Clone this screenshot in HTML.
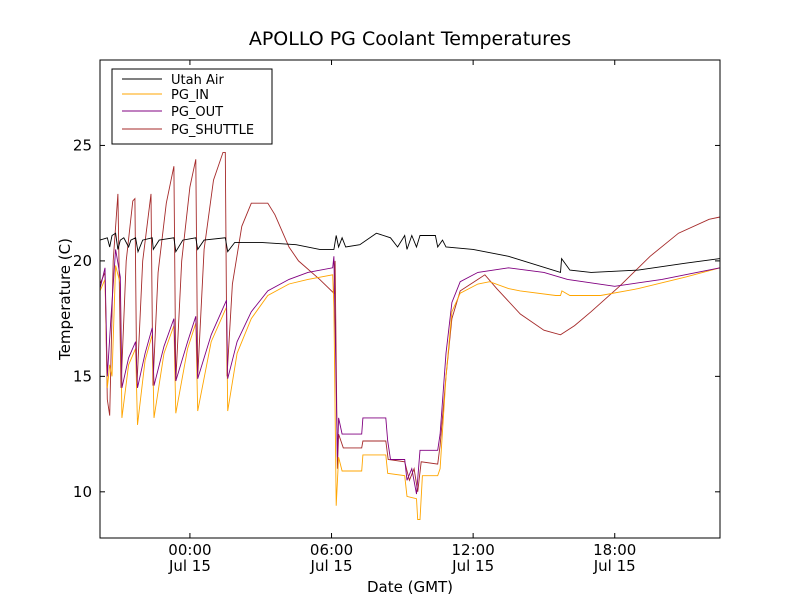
<!DOCTYPE html>
<html><head><meta charset="utf-8"><style>
body{margin:0;background:#fff;}
svg{display:block;font-family:"DejaVu Sans","Liberation Sans",sans-serif;}
</style></head><body>
<svg id="chart" width="800" height="600"></svg>
<script>
const airT=[-3.81,-3.5,-3.4,-3.3,-3.15,-3.05,-2.95,-2.8,-2.6,-2.5,-2.3,-2.2,-2.0,-1.6,-1.55,-1.3,-0.68,-0.6,-0.3,0.25,0.33,0.6,1.5,1.6,1.9,3.0,4.5,5.5,6.1,6.2,6.3,6.45,6.6,7.2,7.9,8.5,8.8,9.1,9.2,9.4,9.6,9.75,10.4,10.5,10.7,10.85,12.0,13.5,15.7,15.75,16.1,17,19,21,22.46];
const airV=[20.9,21.0,20.6,21.1,21.2,20.5,20.9,21.0,20.6,20.9,21.0,20.4,20.9,21.0,20.5,20.9,21.0,20.4,20.9,21.0,20.5,20.9,21.0,20.4,20.8,20.8,20.7,20.5,20.5,21.1,20.6,21.0,20.6,20.7,21.2,21.0,20.6,21.1,20.5,21.1,20.6,21.1,21.1,20.6,20.9,20.6,20.5,20.2,19.5,20.1,19.6,19.5,19.6,19.9,20.1];
const inT=[-3.81,-3.6,-3.5,-3.4,-3.3,-3.15,-2.95,-2.88,-2.6,-2.3,-2.22,-1.9,-1.6,-1.52,-1.1,-0.68,-0.6,-0.1,0.25,0.33,0.9,1.55,1.6,2.0,2.6,3.3,4.2,5.0,6.05,6.1,6.2,6.3,6.45,7.28,7.33,8.3,8.38,9.1,9.2,9.6,9.65,9.75,9.85,10.5,10.6,10.85,11.1,11.45,12.2,12.7,13.5,14,15.5,15.7,15.76,16.1,17.4,19,21,22.46];
const inV=[18.7,19.2,14.5,15.5,15,19.8,19,13.2,15.5,16.2,12.9,15.7,16.8,13.2,16,17.2,13.4,16.2,17.3,13.5,16.5,18,13.5,16,17.5,18.5,19,19.2,19.4,18,9.4,11.5,10.9,10.9,11.6,11.6,10.8,10.7,9.8,9.7,8.8,8.8,10.7,10.7,11,15,17.8,18.6,19,19.1,18.8,18.7,18.5,18.5,18.7,18.5,18.5,18.8,19.3,19.7];
const outT=[-3.81,-3.6,-3.5,-3.35,-3.15,-2.95,-2.88,-2.6,-2.3,-2.22,-1.9,-1.6,-1.52,-1.1,-0.68,-0.6,-0.1,0.25,0.33,0.9,1.55,1.6,2.0,2.6,3.3,4.2,5.0,6.05,6.1,6.25,6.3,6.45,7.28,7.33,8.3,8.38,8.5,9.1,9.2,9.4,9.6,9.75,10.5,10.6,10.85,11.1,11.45,12.2,13.5,15,16,18,20,22.46];
const outV=[18.8,19.7,15,17.5,20.5,19.3,14.5,15.8,16.5,14.5,16,17.1,14.6,16.3,17.5,14.8,16.5,17.6,14.9,16.8,18.3,14.9,16.5,17.8,18.7,19.2,19.5,19.7,20.2,11.5,13.2,12.5,12.5,13.2,13.2,12.2,11.4,11.4,10.5,11.0,9.9,11.8,11.8,12.5,16,18.2,19.1,19.5,19.7,19.5,19.2,18.9,19.2,19.7];
const shT=[-3.81,-3.6,-3.5,-3.4,-3.25,-3.05,-2.92,-2.7,-2.42,-2.33,-2.25,-2.0,-1.65,-1.57,-1.35,-1.0,-0.68,-0.6,-0.35,0,0.25,0.33,0.6,1.0,1.4,1.5,1.57,1.8,2.2,2.6,3.3,3.6,4.2,4.6,5.5,6.1,6.15,6.25,6.3,6.5,7.28,7.33,8.3,8.4,9.1,9.3,9.5,9.65,9.8,10.5,10.6,10.85,11.1,11.45,12.2,12.5,13,14,15,15.7,16.3,17,18.2,19.5,20.7,22.0,22.46];
const shV=[19,19.5,14,13.3,20,22.9,14.5,20,22.6,22.7,14.5,20,22.9,14.6,19.5,22.5,24.1,14.8,20,23.2,24.4,15,20.5,23.5,24.7,24.7,15,19,21.5,22.5,22.5,22,20.6,20,19.2,18.6,20,11,12.5,11.9,11.9,12.2,12.2,11.4,11.3,10.5,11.0,10,11.3,11.2,12,15,17.5,18.7,19.2,19.4,18.8,17.7,17.0,16.8,17.2,17.8,18.9,20.2,21.2,21.8,21.9];
const yTicks=[10,15,20,25];
const xTicks=[0,6,12,18];
const xTickLabels=["00:00","06:00","12:00","18:00"];
const L=100,T=60,W=620,H=478,X0=-3.81,X1=22.46,Y0=8,Y1=28.7;
const sx=h=>L+(h-X0)/(X1-X0)*W, sy=v=>T+H-(v-Y0)/(Y1-Y0)*H;
const NS="http://www.w3.org/2000/svg", svg=document.getElementById('chart');
function mk(tag,at,txt){const e=document.createElementNS(NS,tag);for(const k in at)e.setAttribute(k,at[k]);if(txt!=null)e.textContent=txt;svg.appendChild(e);return e;}
let e=mk('rect',{x:L,y:T,width:W,height:H,fill:'#fff',stroke:'none'});


const series=[[shT,shV,'#a52a2a','pg-shuttle-line'],[inT,inV,'#ffa500','pg-in-line'],[outT,outV,'#800080','pg-out-line'],[airT,airV,'#000','utah-air-line']];
series.forEach(s=>{const d=s[0].map((t,i)=>(i?'L':'M')+sx(t).toFixed(1)+','+sy(s[1][i]).toFixed(1)).join('');
 const p=mk('path',{d:d,fill:'none',stroke:s[2],'stroke-width':0.9});
 
 });
e=mk('rect',{x:L,y:T,width:W,height:H,fill:'none',stroke:'#000','stroke-width':1});


yTicks.forEach(v=>{const y=sy(v);
 mk('line',{x1:L,x2:L+5,y1:y,y2:y,stroke:'#000'});mk('line',{x1:L+W-5,x2:L+W,y1:y,y2:y,stroke:'#000'});
 const t=mk('text',{x:L-8,y:y+5,'text-anchor':'end','font-size':15},String(v));
 
 });
xTicks.forEach((h,i)=>{const x=sx(h);
 mk('line',{x1:x,x2:x,y1:T+H-5,y2:T+H,stroke:'#000'});mk('line',{x1:x,x2:x,y1:T,y2:T+5,stroke:'#000'});
 const t=mk('text',{x:x,y:555,'text-anchor':'middle','font-size':15},xTickLabels[i]);
 
 
 const t2=mk('text',{x:x,y:571,'text-anchor':'middle','font-size':15},'Jul 15');
 
 });
e=mk('text',{x:410,y:45,'text-anchor':'middle','font-size':19},'APOLLO PG Coolant Temperatures');


e=mk('text',{x:410,y:592,'text-anchor':'middle','font-size':15},'Date (GMT)');


e=mk('text',{x:70,y:299,'text-anchor':'middle','font-size':15,transform:'rotate(-90 70 299)'},'Temperature (C)');


e=mk('rect',{x:112,y:69,width:160,height:75,fill:'#fff',stroke:'#000'});


[['Utah Air','#000',79],['PG_IN','#ffa500',94],['PG_OUT','#800080',111],['PG_SHUTTLE','#a52a2a',129]].forEach(l=>{
 mk('line',{x1:122,x2:162,y1:l[2],y2:l[2],stroke:l[1],'stroke-width':0.9});
 const t=mk('text',{x:171,y:l[2]+5,'font-size':13},l[0]);
 
 });
</script>
</body></html>
